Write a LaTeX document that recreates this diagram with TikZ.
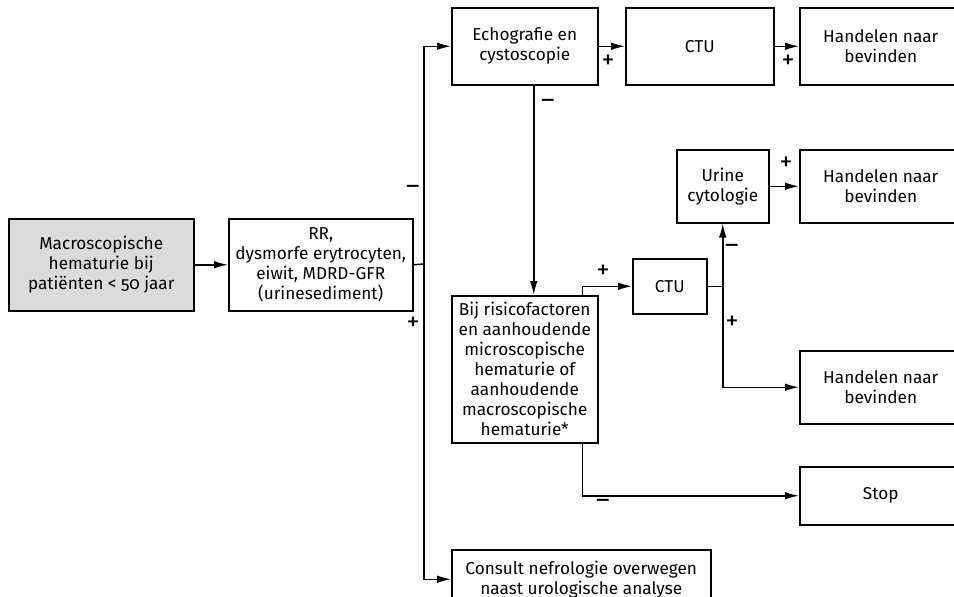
\documentclass[tikz,border=0pt]{standalone}
\usepackage{fontspec}
\setmainfont[Numbers=OldStyle]{Fira Sans}
\usetikzlibrary{arrows.meta}

\tikzset{
box/.style={draw,line width=0.75pt,anchor=north west,align=center,inner sep=1pt,font=\fontsize{8.6}{10}\selectfont},
conn/.style={line width=0.75pt},
arr/.style={conn,-{Latex[length=7pt,width=3.8pt]}},
sign/.style={font=\fontsize{13}{14}\selectfont,inner sep=0pt}
}

\begin{document}
\begin{tikzpicture}[x=0.5pt,y=-0.5pt]
\useasboundingbox (0,0) rectangle (954,596);

% boxes
\node [box,fill=black!14,minimum width=92.5pt,minimum height=46pt] (Macro) at (8,218) {Macroscopische\\hematurie bij\\patiënten < 50 jaar};
\node [box,minimum width=92pt,minimum height=46pt] (RR) at (228,218) {RR,\\dysmorfe erytrocyten,\\eiwit, MDRD-GFR\\(urinesediment)};
\node [box,minimum width=73pt,minimum height=38.5pt] (Echo) at (451,7) {Echografie en\\cystoscopie};
\node [box,minimum width=74pt,minimum height=38.5pt] (CTUa) at (625,7) {CTU};
\node [box,minimum width=81pt,minimum height=38.5pt] (HandA) at (799,7) {Handelen naar\\bevinden};
\node [box,minimum width=46pt,minimum height=36.5pt] (Urine) at (676,149) {Urine\\cytologie};
\node [box,minimum width=81pt,minimum height=36.5pt] (HandB) at (799,149) {Handelen naar\\bevinden};
\node [box,minimum width=37pt,minimum height=27.5pt] (CTUb) at (632,258) {CTU};
\node [box,minimum width=73pt,minimum height=73.5pt] (Bij) at (451,295) {Bij risicofactoren\\en aanhoudende\\microscopische\\hematurie of\\aanhoudende\\macroscopische\\hematurie*};
\node [box,minimum width=81pt,minimum height=36.5pt] (HandC) at (799,350) {Handelen naar\\bevinden};
\node [box,minimum width=81pt,minimum height=29pt] (Stop) at (799,466) {Stop};
\node [box,minimum width=129.5pt,minimum height=29.5pt] (Consult) at (451,549) {Consult nefrologie overwegen\\naast urologische analyse};

% connectors
\draw [arr] (Macro) -- (RR);
\coordinate (J) at (424,264);
\draw [conn] (RR.east) -- (J);
\draw [arr] (J) |- (Echo.west);
\draw [arr] (J) |- (Consult.west);
\draw [arr] (Echo) -- (CTUa);
\draw [arr] (CTUa) -- (HandA);
\draw [arr] ([xshift=4.5pt]Echo.south) -- ([xshift=4.5pt]Bij.north);
\draw [arr] ([xshift=-8pt]Bij.north east) |- (CTUb.west);
\draw [conn] (CTUb.east) -- (CTUb.east -| Urine.south) coordinate (K);
\draw [arr] (K) -- (Urine.south);
\draw [arr] (K) |- (HandC.west);
\draw [arr] (Urine) -- (HandB);
\draw [arr] ([xshift=-8pt]Bij.south east) |- (Stop.west);

% signs
\node [sign] (s1) at (413,190) {–};
\node [sign] (s2) at (413,324) {+};
\node [sign] (s3) at (608,62) {+};
\node [sign] (s4) at (788,62) {+};
\node [sign] (s5) at (548,104) {–};
\node [sign] (s6) at (603,272) {+};
\node [sign] (s7) at (732,249) {–};
\node [sign] (s8) at (732,323) {+};
\node [sign] (s9) at (786,164) {+};
\node [sign] (s10) at (603,504) {–};
\end{tikzpicture}
\end{document}
